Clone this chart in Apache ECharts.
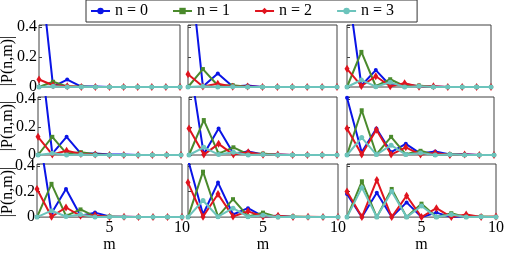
<!DOCTYPE html>
<html><head><meta charset="utf-8">
<script src="https://cdn.jsdelivr.net/npm/echarts@6/dist/echarts.min.js"></script>
<style>html,body{margin:0;padding:0;background:#fff}#c{width:508px;height:254px}</style>
</head><body><div id="c"></div>
<script>
// ---- data ----
const mValues = [0, 1, 2, 3, 4, 5, 6, 7, 8, 9, 10];
const seriesNames = ['n = 0', 'n = 1', 'n = 2', 'n = 3'];
const yTickLabels = ['0', '0.2', '0.4'];
const xTickLabels = ['5', '10'];
const yTitle = '|P(n,m)|';
const xTitle = 'm';

// each panel: rows are n = 0..3, columns m = 0..10
const r1c1 = [
  [0.88, 0.003, 0.05, 0.003, 0.003, 0, 0, 0, 0, 0, 0],
  [0, 0.035, 0.003, 0.003, 0, 0, 0, 0, 0, 0, 0],
  [0.05, 0.012, 0.005, 0, 0, 0, 0, 0, 0, 0, 0],
  [0, 0.005, 0, 0, 0, 0, 0, 0, 0, 0, 0]
];
const r1c2 = [
  [0.94, 0.003, 0.09, 0.003, 0.01, 0, 0, 0, 0, 0, 0],
  [0, 0.12, 0.01, 0.012, 0.002, 0, 0, 0, 0, 0, 0],
  [0.085, 0.003, 0.022, 0.002, 0.003, 0, 0, 0, 0, 0, 0],
  [0, 0.005, 0, 0.002, 0, 0, 0, 0, 0, 0, 0]
];
const r1c3 = [
  [0.71, 0.01, 0.113, 0.01, 0.02, 0.003, 0.003, 0, 0, 0, 0],
  [0, 0.235, 0.005, 0.052, 0.005, 0.01, 0, 0, 0, 0, 0],
  [0.122, 0.007, 0.072, 0.005, 0.025, 0.002, 0.005, 0, 0, 0, 0],
  [0, 0.047, 0.002, 0.032, 0, 0.005, 0, 0, 0, 0, 0]
];
const r2c1 = [
  [0.89, 0.01, 0.13, 0.01, 0.01, 0.003, 0.003, 0, 0, 0, 0],
  [0, 0.13, 0.01, 0.02, 0.005, 0, 0, 0, 0, 0, 0],
  [0.13, 0.003, 0.03, 0.008, 0.003, 0, 0, 0, 0, 0, 0],
  [0, 0.012, 0, 0.003, 0, 0, 0, 0, 0, 0, 0]
];
const r2c2 = [
  [0.69, 0.005, 0.19, 0.01, 0.025, 0.003, 0.003, 0, 0, 0, 0],
  [0, 0.25, 0.01, 0.055, 0.005, 0.01, 0, 0, 0, 0, 0],
  [0.19, 0.003, 0.08, 0.003, 0.02, 0.002, 0.003, 0, 0, 0, 0],
  [0, 0.055, 0.003, 0.02, 0, 0.003, 0, 0, 0, 0, 0]
];
const r2c3 = [
  [0.41, 0.02, 0.19, 0.02, 0.08, 0.01, 0.025, 0.003, 0.005, 0, 0],
  [0, 0.32, 0.005, 0.13, 0.005, 0.03, 0, 0.005, 0, 0, 0],
  [0.19, 0.003, 0.18, 0.003, 0.055, 0.003, 0.015, 0, 0.003, 0, 0],
  [0, 0.125, 0.003, 0.07, 0.003, 0.015, 0, 0.003, 0, 0, 0]
];
const r3c1 = [
  [0.76, 0.03, 0.22, 0.01, 0.035, 0.005, 0.003, 0, 0, 0, 0],
  [0, 0.26, 0.01, 0.06, 0.005, 0.005, 0, 0, 0, 0, 0],
  [0.22, 0.003, 0.075, 0.01, 0.015, 0, 0.003, 0, 0, 0, 0],
  [0, 0.05, 0.005, 0.02, 0, 0.003, 0, 0, 0, 0, 0]
];
const r3c2 = [
  [0.45, 0.02, 0.27, 0.02, 0.07, 0.005, 0.01, 0, 0, 0, 0],
  [0, 0.355, 0.005, 0.14, 0.005, 0.035, 0, 0.005, 0, 0, 0],
  [0.27, 0.003, 0.18, 0.005, 0.045, 0.005, 0.01, 0, 0.003, 0, 0],
  [0, 0.13, 0.003, 0.07, 0.003, 0.015, 0, 0.003, 0, 0, 0]
];
const r3c3 = [
  [0.18, 0, 0.19, 0, 0.115, 0, 0.035, 0, 0.008, 0, 0],
  [0, 0.28, 0, 0.22, 0, 0.105, 0, 0.03, 0, 0.005, 0],
  [0.2, 0, 0.29, 0, 0.167, 0, 0.07, 0, 0.02, 0, 0.005],
  [0, 0.23, 0, 0.2, 0, 0.087, 0, 0.02, 0, 0.003, 0]
];
const panels = [[r1c1, r1c2, r1c3], [r2c1, r2c2, r2c3], [r3c1, r3c2, r3c3]];

// ---- layout / style ----
const FONT = 'Liberation Serif';
const colors = ['#0a14e6', '#4a8a2c', '#e0141e', '#6cc4bc'];
const symbols = ['circle', 'rect', 'diamond', 'circle'];
const symSizes = [4, 4, [5, 8], 5];
const rowTop = [25, 97, 164], rowH = [62, 58, 57];
const colLeft = [[39, 188, 347], [38, 189, 347], [37, 188, 347]];
const colW = [[141, 149, 144], [143, 148, 147], [145, 150, 149]];
const YMAX = 0.415;

const grids = [], xAxes = [], yAxes = [], series = [];
let idx = 0;
for (let r = 0; r < 3; r++) {
  for (let c = 0; c < 3; c++) {
    grids.push({ left: colLeft[r][c], top: rowTop[r], width: colW[r][c], height: rowH[r],
      show: true, borderColor: '#404040', borderWidth: 1, backgroundColor: '#fff' });
    xAxes.push({ gridIndex: idx, type: 'value', min: 0, max: 10, interval: 5,
      axisLine: { show: false }, splitLine: { show: false },
      axisTick: { show: true, inside: true, length: 3, lineStyle: { color: '#404040' } },
      axisLabel: { show: r === 2, margin: 3, color: '#000', fontFamily: FONT, fontSize: 16,
        formatter: v => xTickLabels.includes(String(v)) ? String(v) : '' },
      name: r === 2 ? xTitle : '', nameLocation: 'middle', nameGap: 15,
      nameTextStyle: { color: '#000', fontFamily: FONT, fontSize: 16 } });
    yAxes.push({ gridIndex: idx, type: 'value', min: 0, max: YMAX, interval: 0.2,
      axisLine: { show: false }, splitLine: { show: false },
      axisTick: { show: true, inside: true, length: 3, lineStyle: { color: '#404040' } },
      axisLabel: { show: c === 0, margin: 2, color: '#000', fontFamily: FONT, fontSize: 16,
        formatter: v => { const s = yTickLabels.find(t => Math.abs(parseFloat(t) - v) < 1e-6); return s || ''; } } });
    const pd = panels[r][c];
    for (let n = 0; n < 4; n++) {
      series.push({ type: 'line', name: seriesNames[n], xAxisIndex: idx, yAxisIndex: idx,
        data: pd[n].map((v, k) => [mValues[k], v]), clip: true,
        symbol: symbols[n], symbolSize: symSizes[n], showAllSymbol: true,
        lineStyle: { width: 2, color: colors[n] }, itemStyle: { color: colors[n] },
        z: 2 + n, animation: false });
    }
    idx++;
  }
}

const chart = echarts.init(document.getElementById('c'), null, { renderer: 'canvas' });
chart.setOption({
  animation: false,
  backgroundColor: '#fff',
  grid: grids, xAxis: xAxes, yAxis: yAxes, series: series,
  legend: { data: seriesNames, left: 86, top: 0, orient: 'horizontal',
    itemWidth: 19, itemHeight: 8, itemGap: 24,
    padding: [3, 23, 3, 4], borderColor: '#333', borderWidth: 1, backgroundColor: '#fff',
    textStyle: { color: '#000', fontFamily: FONT, fontSize: 16 } },
  graphic: rowTop.map((t, r) => ({ type: 'text', x: 8, y: [61, 126, 192][r], rotation: Math.PI / 2,
    style: { text: yTitle, fill: '#000', font: '16px "' + FONT + '"', align: 'center', verticalAlign: 'middle' } }))
});
</script></body></html>
